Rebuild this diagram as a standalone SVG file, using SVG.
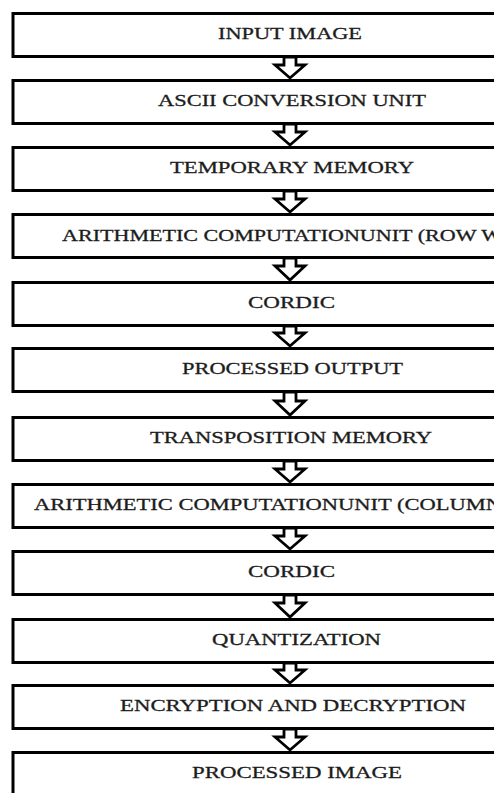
<svg xmlns="http://www.w3.org/2000/svg" width="494" height="793" viewBox="0 0 494 793">
<style>
.box rect{fill:#fff;stroke:#000;stroke-width:3}
.box text{font-family:"Liberation Serif","Times New Roman",serif;font-size:17px;fill:#1c1c1c;stroke:#1c1c1c;stroke-width:0.3}
.arr{fill:#fff;stroke:#000;stroke-width:2.8;stroke-linejoin:miter}
</style>
<rect width="494" height="793" fill="#fff"/>
<g id="n1" class="box"><rect x="13" y="13.5" width="495" height="43"/><text x="218" y="39" textLength="144" lengthAdjust="spacingAndGlyphs">INPUT IMAGE</text></g>
<g id="n2" class="box"><rect x="13" y="80.5" width="495" height="43"/><text x="158" y="106" textLength="268" lengthAdjust="spacingAndGlyphs">ASCII CONVERSION UNIT</text></g>
<g id="n3" class="box"><rect x="13" y="147.5" width="495" height="43"/><text x="170" y="173" textLength="244" lengthAdjust="spacingAndGlyphs">TEMPORARY MEMORY</text></g>
<g id="n4" class="box"><rect x="13" y="214.5" width="495" height="43"/><text x="62" y="241" textLength="440" lengthAdjust="spacingAndGlyphs">ARITHMETIC COMPUTATIONUNIT (ROW W</text></g>
<g id="n5" class="box"><rect x="13" y="282.5" width="495" height="43"/><text x="248" y="308" textLength="87" lengthAdjust="spacingAndGlyphs">CORDIC</text></g>
<g id="n6" class="box"><rect x="13" y="348.5" width="495" height="43"/><text x="182" y="374" textLength="221" lengthAdjust="spacingAndGlyphs">PROCESSED OUTPUT</text></g>
<g id="n7" class="box"><rect x="13" y="417.5" width="495" height="43"/><text x="150" y="443" textLength="282" lengthAdjust="spacingAndGlyphs">TRANSPOSITION MEMORY</text></g>
<g id="n8" class="box"><rect x="13" y="484.5" width="495" height="43"/><text x="34" y="510" textLength="468" lengthAdjust="spacingAndGlyphs">ARITHMETIC COMPUTATIONUNIT (COLUMN</text></g>
<g id="n9" class="box"><rect x="13" y="551.5" width="495" height="43"/><text x="248" y="577" textLength="87" lengthAdjust="spacingAndGlyphs">CORDIC</text></g>
<g id="n10" class="box"><rect x="13" y="619.5" width="495" height="43"/><text x="212" y="645" textLength="169" lengthAdjust="spacingAndGlyphs">QUANTIZATION</text></g>
<g id="n11" class="box"><rect x="13" y="685.5" width="495" height="43"/><text x="120" y="711" textLength="346" lengthAdjust="spacingAndGlyphs">ENCRYPTION AND DECRYPTION</text></g>
<g id="n12" class="box"><rect x="13" y="752.5" width="495" height="45"/><text x="192" y="778" textLength="210" lengthAdjust="spacingAndGlyphs">PROCESSED IMAGE</text></g>
<g id="connectors">
<polygon class="arr" points="284,57 296,57 296,65 305,65 290,78 275,65 284,65"/>
<polygon class="arr" points="284,124 296,124 296,132 305,132 290,145 275,132 284,132"/>
<polygon class="arr" points="284,191 296,191 296,199 305,199 290,212 275,199 284,199"/>
<polygon class="arr" points="284,258 296,258 296,266 305,266 290,280 275,266 284,266"/>
<polygon class="arr" points="284,326 296,326 296,333 305,333 290,346 275,333 284,333"/>
<polygon class="arr" points="284,392 296,392 296,401 305,401 290,415 275,401 284,401"/>
<polygon class="arr" points="284,461 296,461 296,469 305,469 290,482 275,469 284,469"/>
<polygon class="arr" points="284,528 296,528 296,536 305,536 290,549 275,536 284,536"/>
<polygon class="arr" points="284,595 296,595 296,603 305,603 290,617 275,603 284,603"/>
<polygon class="arr" points="284,663 296,663 296,670 305,670 290,683 275,670 284,670"/>
<polygon class="arr" points="284,729 296,729 296,737 305,737 290,750 275,737 284,737"/>
</g>
</svg>
